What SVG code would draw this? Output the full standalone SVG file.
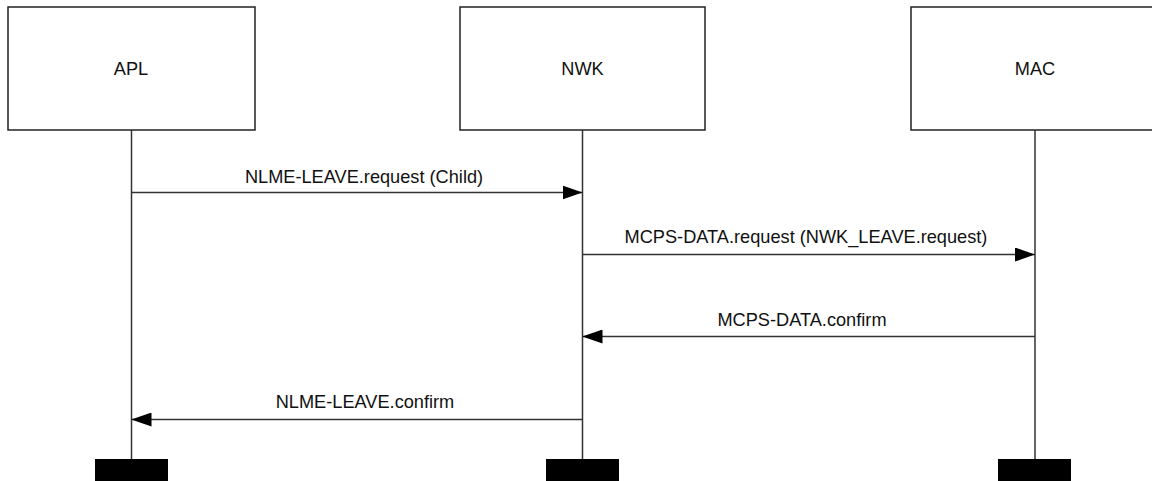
<svg xmlns="http://www.w3.org/2000/svg" width="1152" height="481" viewBox="0 0 1152 481">
<style>
.box{fill:#fff;stroke:#222;stroke-width:1.5}
.life{stroke:#333;stroke-width:1.5;fill:none}
.msg{stroke:#333;stroke-width:1.5;fill:none}
.end{fill:#000}
text{font-family:"Liberation Sans",Arial,sans-serif;font-size:18.2px;fill:#111;text-anchor:middle}
</style>
<defs>
<marker id="ah" markerWidth="20" markerHeight="14" refX="20" refY="7" orient="auto" markerUnits="userSpaceOnUse">
<path d="M0,0 L20,7 L0,14 Z" fill="#000"/>
</marker>
</defs>
<g id="apl">
<rect class="box" x="8" y="7" width="247" height="123"/>
<text x="131" y="75">APL</text>
<line class="life" x1="131.5" y1="130" x2="131.5" y2="460"/>
<rect class="end" x="95" y="459" width="73" height="22"/>
</g>
<g id="nwk">
<rect class="box" x="460" y="7" width="245" height="123"/>
<text x="582.5" y="75">NWK</text>
<line class="life" x1="582.5" y1="130" x2="582.5" y2="460"/>
<rect class="end" x="546" y="459" width="73" height="22"/>
</g>
<g id="mac">
<rect class="box" x="911" y="7" width="248" height="123"/>
<text x="1035" y="75">MAC</text>
<line class="life" x1="1035" y1="130" x2="1035" y2="460"/>
<rect class="end" x="998" y="459" width="73" height="22"/>
</g>
<g id="connectors">
<line class="msg" x1="131.5" y1="192.5" x2="582.5" y2="192.5" marker-end="url(#ah)"/>
<text x="364" y="183">NLME-LEAVE.request (Child)</text>
<line class="msg" x1="582.5" y1="254.5" x2="1035" y2="254.5" marker-end="url(#ah)"/>
<text x="806" y="243">MCPS-DATA.request (NWK_LEAVE.request)</text>
<line class="msg" x1="1035" y1="336.5" x2="582.5" y2="336.5" marker-end="url(#ah)"/>
<text x="802" y="326">MCPS-DATA.confirm</text>
<line class="msg" x1="582.5" y1="419.5" x2="131.5" y2="419.5" marker-end="url(#ah)"/>
<text x="365" y="408">NLME-LEAVE.confirm</text>
</g>
</svg>
